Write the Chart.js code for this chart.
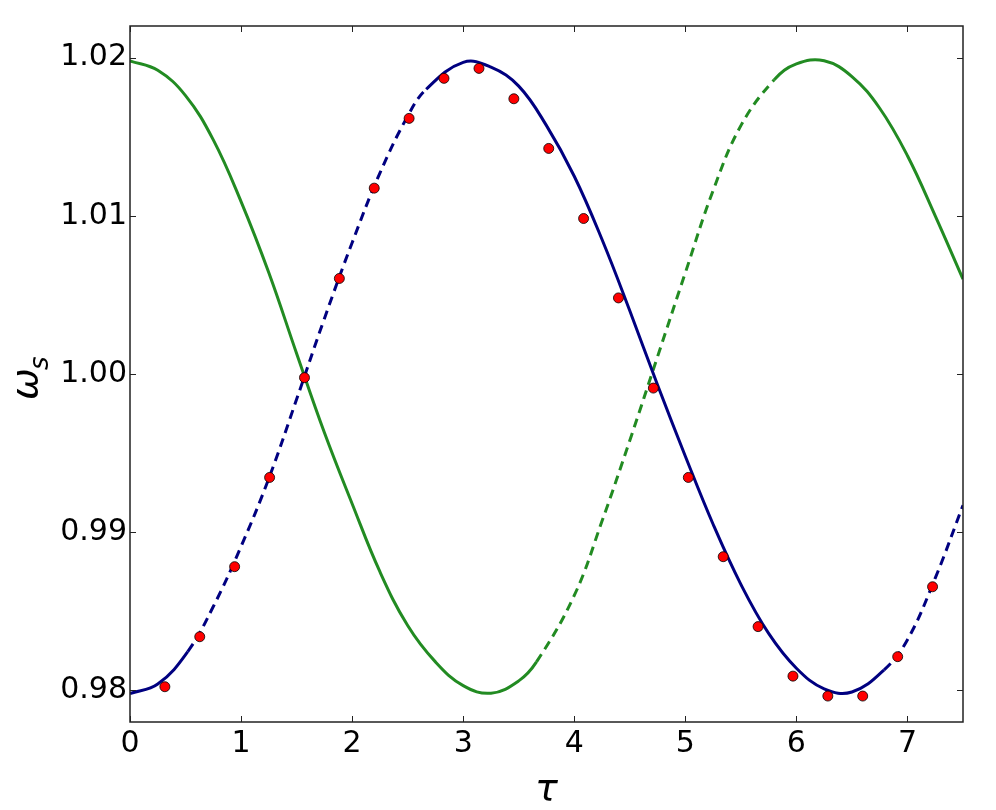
<!DOCTYPE html>
<html lang="en">
  <head>
    <meta charset="UTF-8" />
    <title>omega_s vs tau</title>
    <script src="https://cdn.jsdelivr.net/npm/chart.js"></script>
    <style>
      body {
        margin: 0;
        background: white;
      }
      canvas {
        display: block;
      }
    </style>
  </head>
  <body>
    <canvas id="chart" width="996" height="810"></canvas>

    <script>
      // values
      const blueTau = [0, 0.25, 0.52, 0.75, 1.0, 1.25, 1.5, 1.75, 2.0, 2.25, 2.5, 2.667, 3.0, 3.25, 3.5, 3.75, 4.0, 4.25, 4.5, 4.75, 5.0, 5.25, 5.5, 5.75, 6.0, 6.25, 6.5, 6.79, 7.0, 7.25, 7.5];
      const blueOmega = [0.9798, 0.9804, 0.98245, 0.9853, 0.9891, 0.9934, 0.9984, 1.0035, 1.0083, 1.0127, 1.0163, 1.018, 1.0197, 1.0194, 1.0182, 1.0157, 1.0125, 1.0085, 1.004, 0.9993, 0.9948, 0.9905, 0.9867, 0.9836, 0.9814, 0.9801, 0.9799, 0.9813, 0.9832, 0.9871, 0.9917];

      const greenTau = [0, 0.25, 0.5, 0.75, 1.0, 1.25, 1.5, 1.75, 2.0, 2.25, 2.5, 2.75, 3.0, 3.25, 3.5, 3.66, 4.0, 4.25, 4.5, 4.75, 5.0, 5.25, 5.5, 5.8, 6.0, 6.25, 6.5, 6.75, 7.0, 7.25, 7.5];
      const greenOmega = [1.0198, 1.0192, 1.0176, 1.0148, 1.0109, 1.0064, 1.0013, 0.9963, 0.9918, 0.9875, 0.9841, 0.9818, 0.9803, 0.97982, 0.9806, 0.9818, 0.986, 0.9907, 0.9958, 1.0011, 1.0064, 1.0116, 1.0157, 1.0186, 1.0196, 1.0198, 1.0188, 1.0168, 1.0138, 1.01, 1.006];

      const dotTau = [0.314, 0.628, 0.942, 1.257, 1.571, 1.885, 2.199, 2.513, 2.827, 3.142, 3.456, 3.770, 4.084, 4.398, 4.712, 5.027, 5.341, 5.655, 5.969, 6.283, 6.597, 6.912, 7.226];
      const dotOmega = [0.98023, 0.98339, 0.98782, 0.99346, 0.99977, 1.00604, 1.01175, 1.01616, 1.01869, 1.01932, 1.0174, 1.01426, 1.00983, 1.00481, 0.99911, 0.99346, 0.98845, 0.98403, 0.9809, 0.97964, 0.97964, 0.98213, 0.98655];

      // tau ranges where each curve is drawn dashed
      const blueDashed = [[0.52, 2.667], [6.79, 7.5]];
      const greenDashed = [[3.66, 5.8]];

      const xTicks = [0, 1, 2, 3, 4, 5, 6, 7];
      const yTicks = [0.98, 0.99, 1.0, 1.01, 1.02];

      const toPoints = (xs, ys) => xs.map((x, i) => ({ x: x, y: ys[i] }));

      function inRanges(ctx, ranges) {
        const a = ctx.p0.parsed.x;
        const b = ctx.p1.parsed.x;
        return ranges.some((r) => a >= r[0] - 1e-6 && b <= r[1] + 1e-6);
      }

      // frame, inward ticks and the math-style axis labels
      const framePlugin = {
        id: "frame",
        afterDatasetsDraw(chart) {
          const { ctx, chartArea: a, scales } = chart;
          ctx.save();
          ctx.strokeStyle = "#222";
          ctx.lineWidth = 1;
          const len = 6;
          ctx.beginPath();
          scales.x.ticks.forEach((t) => {
            const px = Math.round(scales.x.getPixelForValue(t.value)) + 0.5;
            ctx.moveTo(px, a.bottom);
            ctx.lineTo(px, a.bottom - len);
            ctx.moveTo(px, a.top);
            ctx.lineTo(px, a.top + len);
          });
          scales.y.ticks.forEach((t) => {
            const py = Math.round(scales.y.getPixelForValue(t.value)) + 0.5;
            ctx.moveTo(a.left, py);
            ctx.lineTo(a.left + len, py);
            ctx.moveTo(a.right, py);
            ctx.lineTo(a.right - len, py);
          });
          ctx.stroke();
          ctx.lineWidth = 1.5;
          ctx.strokeRect(a.left, a.top, a.right - a.left, a.bottom - a.top);

          ctx.fillStyle = "#000";
          ctx.textBaseline = "alphabetic";
          ctx.font = "italic 38px 'DejaVu Sans'";
          ctx.textAlign = "center";
          ctx.fillText("τ", (a.left + a.right) / 2, 800);

          ctx.translate(37, (a.top + a.bottom) / 2 + 11);
          ctx.rotate(-Math.PI / 2);
          ctx.textAlign = "left";
          ctx.fillText("ω", -15, 0);
          ctx.font = "italic 26px 'DejaVu Sans'";
          ctx.fillText("s", 15, 11);
          ctx.restore();
        },
      };

      new Chart(document.getElementById("chart"), {
        type: "scatter",
        data: {
          datasets: [
            {
              label: "points",
              data: toPoints(dotTau, dotOmega),
              showLine: false,
              pointRadius: 5,
              pointBackgroundColor: "#ff0000",
              pointBorderColor: "#000",
              pointBorderWidth: 0.8,
              order: 0,
            },
            {
              label: "blue",
              data: toPoints(blueTau, blueOmega),
              showLine: true,
              borderColor: "#000080",
              borderWidth: 3,
              borderCapStyle: "butt",
              pointRadius: 0,
              tension: 0.4,
              segment: {
                borderDash: (ctx) => (inRanges(ctx, blueDashed) ? [9, 6] : undefined),
              },
              order: 1,
            },
            {
              label: "green",
              data: toPoints(greenTau, greenOmega),
              showLine: true,
              borderColor: "#228b22",
              borderWidth: 3,
              borderCapStyle: "butt",
              pointRadius: 0,
              tension: 0.4,
              segment: {
                borderDash: (ctx) => (inRanges(ctx, greenDashed) ? [9, 6] : undefined),
              },
              order: 2,
            },
          ],
        },
        options: {
          responsive: false,
          animation: false,
          events: [],
          layout: { padding: { top: 26, right: 33, left: 0, bottom: 0 } },
          plugins: {
            legend: { display: false },
            tooltip: { enabled: false },
          },
          scales: {
            x: {
              type: "linear",
              min: 0,
              max: 7.5,
              afterBuildTicks: (scale) => {
                scale.ticks = xTicks.map((v) => ({ value: v }));
              },
              afterFit: (scale) => {
                scale.height = 88;
              },
              grid: { display: false, drawTicks: false },
              border: { display: false },
              ticks: {
                padding: 4,
                color: "#000",
                font: { family: "DejaVu Sans", size: 30 },
                callback: (v) => String(v),
              },
            },
            y: {
              type: "linear",
              min: 0.978,
              max: 1.022,
              afterBuildTicks: (scale) => {
                scale.ticks = yTicks.map((v) => ({ value: v }));
              },
              afterFit: (scale) => {
                scale.width = 130;
              },
              grid: { display: false, drawTicks: false },
              border: { display: false },
              ticks: {
                padding: 3,
                color: "#000",
                font: { family: "DejaVu Sans", size: 30 },
                callback: (v) => Number(v).toFixed(2),
              },
            },
          },
        },
        plugins: [framePlugin],
      });
    </script>
  </body>
</html>
